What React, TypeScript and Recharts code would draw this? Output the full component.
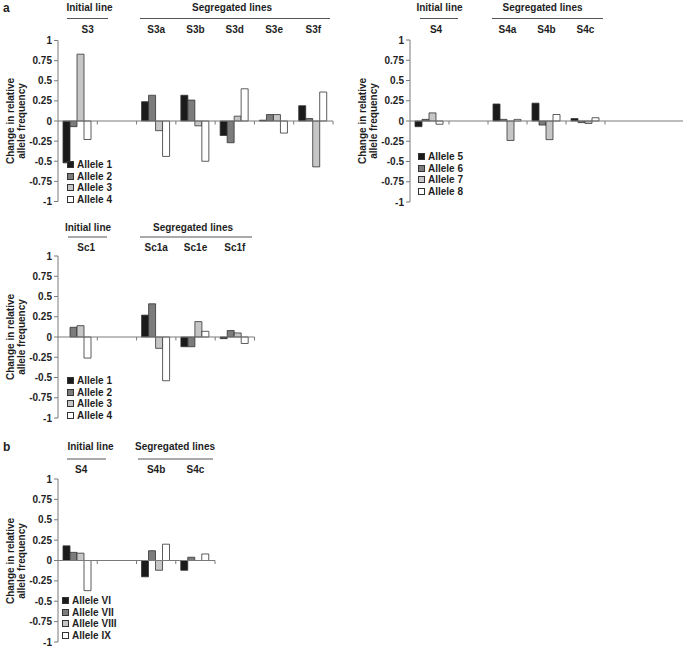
import React from 'react';
import { BarChart, Bar, XAxis, YAxis, ReferenceLine, Legend } from 'recharts';

const FONT = '"Liberation Sans", Arial, Helvetica, sans-serif';
const AXIS = '#7a7a7a';
const TEXT = '#1e1e1e';
const STROKE = '#333333';
const FILLS = ['#1b1b1b', '#7c7c7c', '#c6c6c6', '#ffffff'];
const KEYS = ['a1', 'a2', 'a3', 'a4'];

const yTicks = [-1, -0.75, -0.5, -0.25, 0, 0.25, 0.5, 0.75, 1];

// Panel a (top-left): S3 lines
const catsS3 = ['S3', ' ', 'S3a', 'S3b', 'S3d', 'S3e', 'S3f'];
const s3Allele1 = [-0.52, null, 0.24, 0.32, -0.18, 0.01, 0.19];
const s3Allele2 = [-0.07, null, 0.32, 0.26, -0.27, 0.08, 0.03];
const s3Allele3 = [0.83, null, -0.12, -0.06, 0.06, 0.08, -0.57];
const s3Allele4 = [-0.23, null, -0.44, -0.5, 0.4, -0.15, 0.36];
const namesS3 = ['Allele 1', 'Allele 2', 'Allele 3', 'Allele 4'];

// Panel a (top-right): S4 lines
const catsS4 = ['S4', ' ', 'S4a', 'S4b', 'S4c', '  ', '   '];
const s4Allele5 = [-0.07, null, 0.21, 0.22, 0.03, null, null];
const s4Allele6 = [0.02, null, 0.02, -0.05, -0.02, null, null];
const s4Allele7 = [0.1, null, -0.24, -0.23, -0.03, null, null];
const s4Allele8 = [-0.04, null, 0.02, 0.08, 0.04, null, null];
const namesS4 = ['Allele 5', 'Allele 6', 'Allele 7', 'Allele 8'];

// Panel a (middle): Sc1 lines
const catsSc1 = ['Sc1', ' ', 'Sc1a', 'Sc1e', 'Sc1f'];
const sc1Allele1 = [0, null, 0.27, -0.12, -0.02];
const sc1Allele2 = [0.12, null, 0.41, -0.12, 0.08];
const sc1Allele3 = [0.14, null, -0.14, 0.19, 0.05];
const sc1Allele4 = [-0.26, null, -0.54, 0.07, -0.08];
const namesSc1 = ['Allele 1', 'Allele 2', 'Allele 3', 'Allele 4'];

// Panel b: S4 lines
const catsB = ['S4', ' ', 'S4b', 'S4c'];
const bAlleleVI = [0.18, null, -0.2, -0.12];
const bAlleleVII = [0.1, null, 0.12, 0.04];
const bAlleleVIII = [0.09, null, -0.12, 0];
const bAlleleIX = [-0.37, null, 0.2, 0.08];
const namesB = ['Allele VI', 'Allele VII', 'Allele VIII', 'Allele IX'];

const buildRows = (cats: string[], series: (number | null)[][]) =>
  cats.map((c, i) => {
    const row: any = { cat: c };
    series.forEach((s, k) => {
      row[KEYS[k]] = s[i];
    });
    return row;
  });

const makeCatTick = (firstDx: number) => (props: any) => {
  const { x, y, payload, index } = props;
  return (
    <text
      x={x + (index === 0 ? firstDx : 0)}
      y={y}
      textAnchor="middle"
      fontFamily={FONT}
      fontSize={10}
      fontWeight="bold"
      fill={TEXT}
    >
      {payload.value}
    </text>
  );
};

const makeZeroShape = (n: number, nTicks: number) => (p: any) => {
  const { x1, x2, y1 } = p;
  const bw = (x2 - x1) / n;
  const marks = [];
  for (let k = 1; k <= nTicks; k++) {
    const xx = x1 + k * bw;
    marks.push(<line key={k} x1={xx} x2={xx} y1={y1} y2={y1 + 3.5} stroke={AXIS} strokeWidth={1} />);
  }
  return (
    <g>
      <line x1={x1} x2={x2} y1={y1} y2={y1} stroke={AXIS} strokeWidth={1} />
      {marks}
    </g>
  );
};

const LegendContent = (props: any) => {
  const { payload } = props;
  const items = (payload || []).slice().sort((a: any, b: any) => KEYS.indexOf(a.dataKey) - KEYS.indexOf(b.dataKey));
  return (
    <div style={{ fontFamily: FONT, fontSize: 10, fontWeight: 'bold', color: TEXT, lineHeight: '11.5px' }}>
      {items.map((e: any, i: number) => (
        <div key={i} style={{ display: 'flex', alignItems: 'center', height: 11.5, whiteSpace: 'nowrap' }}>
          <span
            style={{
              display: 'inline-block',
              width: 7,
              height: 7,
              boxSizing: 'border-box',
              border: `1px solid ${STROKE}`,
              background: FILLS[KEYS.indexOf(e.dataKey)],
              marginRight: 3,
            }}
          />
          <span>{e.value}</span>
        </div>
      ))}
    </div>
  );
};

type PanelProps = {
  left: number;
  top: number;
  width: number;
  height: number;
  plotTop: number;
  marginRight: number;
  marginBottom: number;
  cats: string[];
  series: (number | null)[][];
  names: string[];
  firstDx: number;
  labelGap: number;
  nTicks: number;
  legendLeft: number;
  legendTop: number;
};

const Panel = (p: PanelProps) => {
  const data = buildRows(p.cats, p.series);
  return (
    <div style={{ position: 'absolute', left: p.left, top: p.top, width: p.width, height: p.height }}>
      <BarChart
        width={p.width}
        height={p.height}
        data={data}
        margin={{ top: 0, right: p.marginRight, bottom: p.marginBottom, left: 0 }}
        barGap={0}
        barCategoryGap={5}
      >
        <XAxis
          dataKey="cat"
          orientation="top"
          height={p.plotTop}
          axisLine={false}
          tickLine={false}
          tickSize={0}
          tickMargin={p.labelGap}
          interval={0}
          tick={makeCatTick(p.firstDx)}
        />
        <YAxis
          type="number"
          domain={[-1, 1]}
          ticks={yTicks}
          interval={0}
          allowDataOverflow
          width={58}
          tickSize={4}
          tickMargin={2}
          axisLine={{ stroke: AXIS, strokeWidth: 1 }}
          tickLine={{ stroke: AXIS, strokeWidth: 1 }}
          tick={{ fontFamily: FONT, fontSize: 10, fontWeight: 'bold', fill: TEXT }}
          tickFormatter={(v: number) => String(v)}
        />
        {KEYS.map((k, i) => (
          <Bar
            key={k}
            dataKey={k}
            name={p.names[i]}
            fill={FILLS[i]}
            stroke={STROKE}
            strokeWidth={0.8}
            isAnimationActive={false}
          />
        ))}
        <ReferenceLine y={0} shape={makeZeroShape(p.cats.length, p.nTicks)} ifOverflow="extendDomain" />
        <Legend
          layout="vertical"
          align="center"
          verticalAlign="middle"
          itemSorter="dataKey"
          content={<LegendContent />}
          wrapperStyle={{ left: p.legendLeft, top: p.legendTop, width: 'auto', height: 'auto' }}
        />
      </BarChart>
    </div>
  );
};

const Header = ({
  initCx,
  initLine,
  segCx,
  segLine,
  textY,
  lineY,
}: {
  initCx: number;
  initLine: [number, number];
  segCx: number;
  segLine: [number, number];
  textY: number;
  lineY: number;
}) => (
  <g fontFamily={FONT} fontSize={10} fontWeight="bold" fill={TEXT}>
    <text x={initCx} y={textY} textAnchor="middle">Initial line</text>
    <line x1={initLine[0]} x2={initLine[1]} y1={lineY} y2={lineY} stroke="#555" strokeWidth={1} />
    <text x={segCx} y={textY} textAnchor="middle">Segregated lines</text>
    <line x1={segLine[0]} x2={segLine[1]} y1={lineY} y2={lineY} stroke="#555" strokeWidth={1} />
  </g>
);

const YLabel = ({ axisX, cy }: { axisX: number; cy: number }) => (
  <g fontFamily={FONT} fontSize={10} fontWeight="bold" fill={TEXT}>
    <text transform={`translate(${axisX - 44},${cy}) rotate(-90)`} textAnchor="middle">Change in relative</text>
    <text transform={`translate(${axisX - 33},${cy}) rotate(-90)`} textAnchor="middle">allele frequency</text>
  </g>
);

export default function App() {
  return (
    <div style={{ position: 'absolute', left: 0, top: 0, width: 685, height: 648, background: '#fff', overflow: 'hidden' }}>
      <Panel
        left={0}
        top={0}
        width={340}
        height={214}
        plotTop={40.5}
        marginRight={7}
        marginBottom={12.5}
        cats={catsS3}
        series={[s3Allele1, s3Allele2, s3Allele3, s3Allele4]}
        names={namesS3}
        firstDx={10}
        labelGap={7.5}
        nTicks={7}
        legendLeft={67}
        legendTop={159}
      />
      <Panel
        left={352}
        top={0}
        width={333}
        height={214}
        plotTop={40}
        marginRight={2}
        marginBottom={12}
        cats={catsS4}
        series={[s4Allele5, s4Allele6, s4Allele7, s4Allele8]}
        names={namesS4}
        firstDx={6.5}
        labelGap={7}
        nTicks={5}
        legendLeft={66}
        legendTop={151}
      />
      <Panel
        left={0}
        top={215}
        width={260}
        height={214}
        plotTop={41}
        marginRight={5.5}
        marginBottom={11}
        cats={catsSc1}
        series={[sc1Allele1, sc1Allele2, sc1Allele3, sc1Allele4]}
        names={namesSc1}
        firstDx={8.5}
        labelGap={5}
        nTicks={5}
        legendLeft={67}
        legendTop={160}
      />
      <Panel
        left={0}
        top={438}
        width={220}
        height={212}
        plotTop={41}
        marginRight={5}
        marginBottom={8}
        cats={catsB}
        series={[bAlleleVI, bAlleleVII, bAlleleVIII, bAlleleIX]}
        names={namesB}
        firstDx={3.5}
        labelGap={6}
        nTicks={4}
        legendLeft={62}
        legendTop={157}
      />
      <svg
        width={685}
        height={648}
        style={{ position: 'absolute', left: 0, top: 0, pointerEvents: 'none' }}
      >
        <text x={3} y={12} fontFamily={FONT} fontSize={12} fontWeight="bold" fill={TEXT}>a</text>
        <text x={3} y={451} fontFamily={FONT} fontSize={12} fontWeight="bold" fill={TEXT}>b</text>
        <Header initCx={89.5} initLine={[67, 108]} segCx={232} segLine={[140, 330]} textY={11} lineY={18.5} />
        <Header initCx={439.5} initLine={[420, 458]} segCx={542.5} segLine={[492, 603]} textY={11} lineY={18.5} />
        <Header initCx={88} initLine={[68, 107]} segCx={193} segLine={[140, 252]} textY={230.5} lineY={237} />
        <Header initCx={90.5} initLine={[67, 106]} segCx={175} segLine={[138, 213]} textY={450} lineY={459} />
        <YLabel axisX={58} cy={121} />
        <YLabel axisX={410} cy={121} />
        <YLabel axisX={58} cy={337} />
        <YLabel axisX={58} cy={561} />
      </svg>
    </div>
  );
}
